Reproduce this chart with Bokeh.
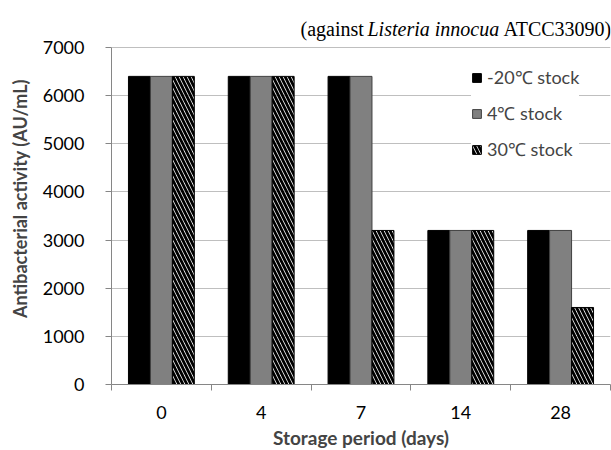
from bokeh.plotting import figure
from bokeh.models import (FactorRange, Range1d, LinearAxis, FixedTicker,
                          Legend, LegendItem, Label, ColumnDataSource)
from bokeh.transform import dodge
from bokeh.embed import file_html
from bokeh.resources import INLINE

days = ["0", "4", "7", "14", "28"]
stock_m20 = [6400, 6400, 6400, 3200, 3200]
stock_4 = [6400, 6400, 6400, 3200, 3200]
stock_30 = [6400, 6400, 3200, 3200, 1600]
series_labels = ["-20\u2103 stock", "4\u2103 stock", "30\u2103 stock"]
y_ticks = [0, 1000, 2000, 3000, 4000, 5000, 6000, 7000]
y_max = 7000

FONT = "Lato"
src = ColumnDataSource(dict(day=days, a=stock_m20, b=stock_4, c=stock_30))

# frame extends 35px above the 7000 line to hold the subtitle
PLOT_H = 337
EXTRA = 35
p = figure(x_range=FactorRange(*days), y_range=Range1d(0, y_max * (PLOT_H + EXTRA) / PLOT_H),
           frame_width=499, frame_height=PLOT_H + EXTRA,
           min_border_left=111, min_border_right=1, min_border_top=12, min_border_bottom=0,
           output_backend="svg", toolbar_location=None, x_axis_location=None)
p.outline_line_color = None
p.background_fill_color = "white"
p.title.visible = False

# axis in the factor range's synthetic coordinates: ticks at category boundaries,
# labels at category centres
xax = LinearAxis(ticker=FixedTicker(ticks=[i + 0.5 for i in range(len(days))],
                                    minor_ticks=list(range(len(days) + 1))))
xax.major_label_overrides = {i + 0.5: d for i, d in enumerate(days)}
xax.major_tick_line_color = None
xax.minor_tick_out = 6
xax.minor_tick_in = 0
xax.minor_tick_line_color = "#868686"
xax.axis_line_color = "#868686"
xax.major_label_text_font = FONT
xax.major_label_text_font_size = "18px"
xax.major_label_text_color = "black"
xax.major_label_standoff = 15
xax.axis_label = "Storage period (days)"
xax.axis_label_text_font = FONT
xax.axis_label_text_font_style = "bold"
xax.axis_label_text_font_size = "19px"
xax.axis_label_standoff = 4
p.add_layout(xax, "below")

yax = p.yaxis[0]
yax.ticker = FixedTicker(ticks=y_ticks)
yax.bounds = (0, y_max)
yax.axis_line_color = "#868686"
yax.major_tick_line_color = "#868686"
yax.major_tick_out = 6
yax.major_tick_in = 0
yax.minor_tick_line_color = None
yax.major_label_text_font = FONT
yax.major_label_text_font_size = "18px"
yax.major_label_text_color = "black"
yax.major_label_standoff = 21
yax.axis_label = "Antibacterial activity (AU/mL)"
yax.axis_label_text_font = FONT
yax.axis_label_text_font_style = "bold"
yax.axis_label_text_font_size = "18px"
yax.axis_label_standoff = 9

p.xgrid.grid_line_color = None
p.ygrid.ticker = FixedTicker(ticks=y_ticks)
p.ygrid.grid_line_color = "#bfbfbf"
p.ygrid.grid_line_width = 1

w = 0.22
r1 = p.vbar(x=dodge("day", -w, range=p.x_range), top="a", width=w, source=src,
            fill_color="black", line_color="black")
r2 = p.vbar(x=dodge("day", 0, range=p.x_range), top="b", width=w, source=src,
            fill_color="#808080", line_color="#404040")
r3 = p.vbar(x=dodge("day", w, range=p.x_range), top="c", width=w, source=src,
            fill_color="white", fill_alpha=0, line_color="black",
            hatch_pattern="left_diagonal_line",
            hatch_color="black", hatch_scale=8, hatch_weight=2.8)

legend = Legend(items=[LegendItem(label=series_labels[0], renderers=[r1]),
                       LegendItem(label=series_labels[1], renderers=[r2]),
                       LegendItem(label=series_labels[2], renderers=[r3])],
                location=(360, 223), orientation="vertical")
legend.glyph_width = 11
legend.glyph_height = 11
legend.label_height = 20
legend.spacing = 12
legend.padding = 10
legend.margin = 0
legend.label_standoff = 5
legend.label_text_font = FONT
legend.label_text_font_size = "18px"
legend.border_line_color = None
legend.background_fill_alpha = 1
p.add_layout(legend, "center")

# subtitle text in three styled pieces, anchored to the right end / top of the data area
for txt, off, style in [("(against ", -310, "normal"),
                        ("Listeria innocua", -243, "italic"),
                        ("ATCC33090)", -107, "normal")]:
    p.add_layout(Label(x=len(days), y=y_max, x_offset=off, y_offset=19,
                       text=txt, text_font="Liberation Serif", text_font_style=style,
                       text_font_size="20px", text_align="left", text_baseline="alphabetic",
                       text_color="black"))

open("out.html", "w").write(file_html(p, INLINE))
